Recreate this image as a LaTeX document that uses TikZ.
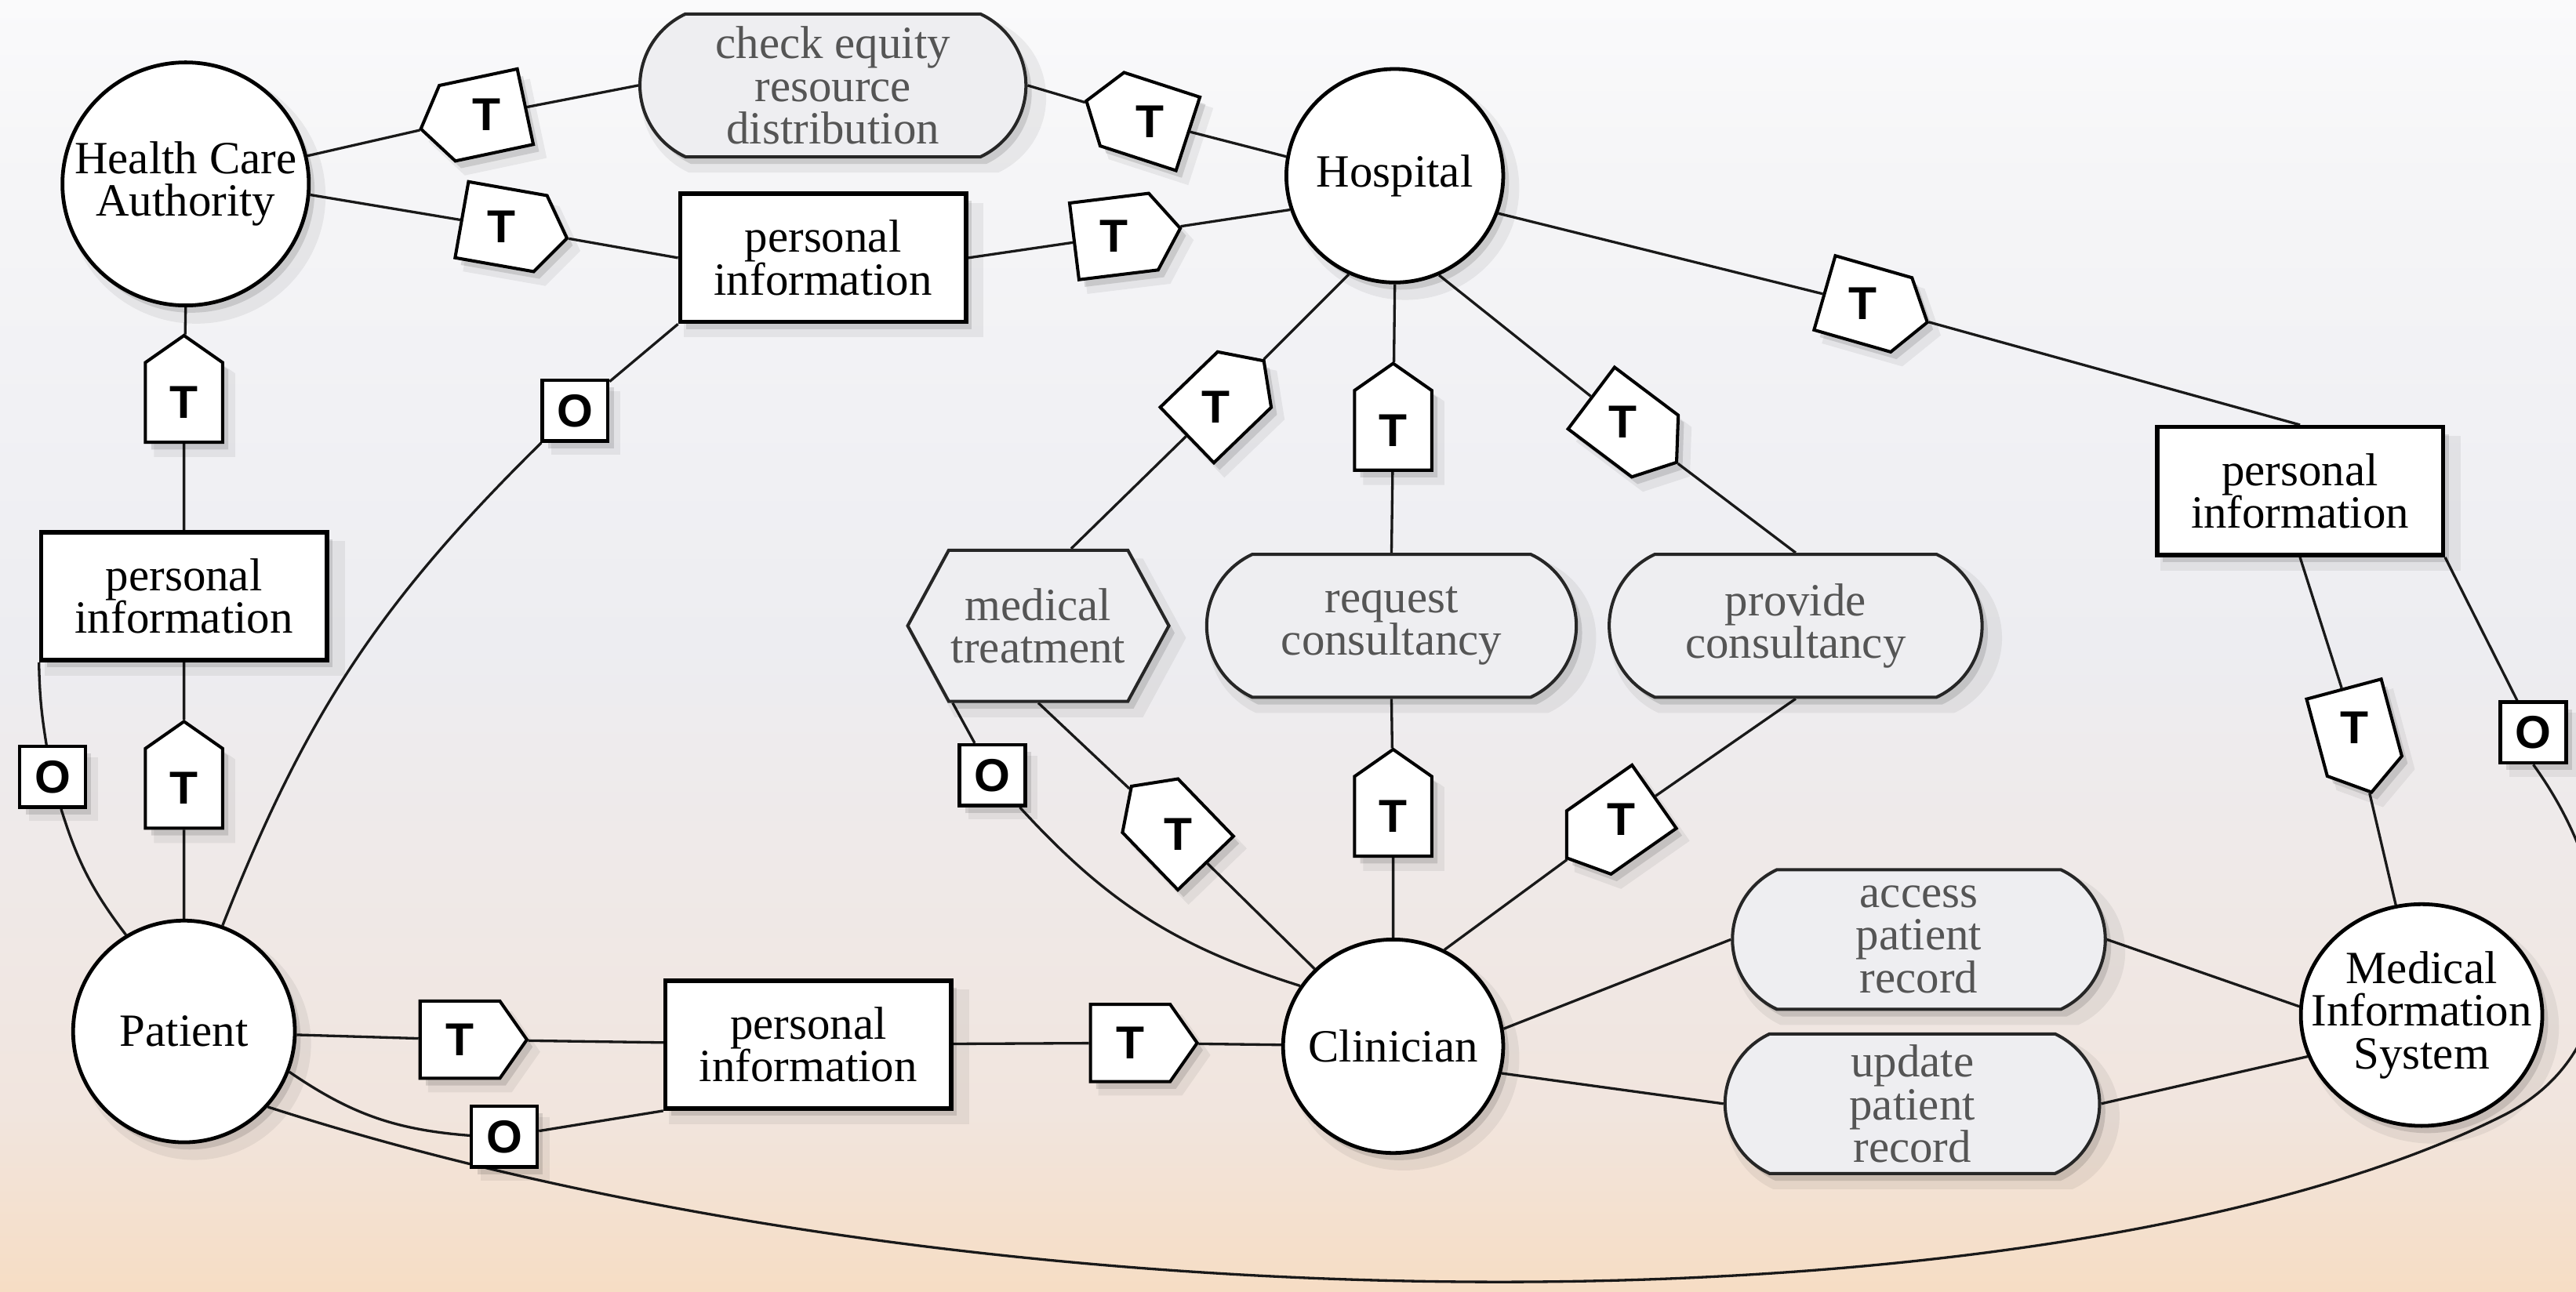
\documentclass[tikz,border=0pt]{standalone}
\usepackage{fontspec}
\setmainfont{Liberation Serif}
\newfontfamily\markfont{Liberation Sans}
\usetikzlibrary{shapes.geometric,shapes.misc,shapes.symbols,shadows}
\definecolor{bgbot}{RGB}{246,221,196}
\definecolor{bgpeach}{RGB}{241,229,222}
\definecolor{bgmid}{RGB}{237,237,241}
\definecolor{bgtoptwo}{RGB}{245,245,247}
\definecolor{bgtop}{RGB}{250,250,251}
\definecolor{goaltext}{RGB}{85,85,85}
\definecolor{goalfill}{RGB}{238,238,241}
\pgfdeclareverticalshading{bgsh}{100bp}{color(0bp)=(bgbot); color(25bp)=(bgbot); color(32bp)=(bgpeach); color(50bp)=(bgmid); color(68bp)=(bgtoptwo); color(75bp)=(bgtop); color(100bp)=(bgtop)}
\pgfdeclarelayer{bglayer}
\pgfdeclarelayer{edgelayer}
\pgfsetlayers{bglayer,edgelayer,main}
\tikzset{
  txt/.style={font=\fontsize{16}{14.8}\selectfont, align=center},
  soft/.style={general shadow={fill=black,opacity=0.06,shadow scale=1.05,shadow xshift=3.5pt,shadow yshift=-4pt},
               general shadow={fill=black,opacity=0.12,shadow xshift=2pt,shadow yshift=-2.5pt}},
  actor/.style={ellipse, draw, line width=1.3pt, fill=white, inner sep=0pt, soft},
  actxt/.style={inner sep=0pt, txt},
  res/.style={rectangle, draw, line width=1.5pt, fill=white, minimum width=3.48cm, minimum height=1.56cm, inner sep=0pt, txt, soft},
  goal/.style={rounded rectangle, rounded rectangle arc length=130, draw=black!85, line width=1.1pt, fill=goalfill, minimum height=1.74cm, inner sep=0pt, txt, text=goaltext, soft},
  task/.style={signal, signal to=west and east, signal pointer angle=123, draw=black!85, line width=1.1pt, fill=goalfill, minimum width=3.18cm, minimum height=1.84cm, inner sep=0pt, txt, text=goaltext, soft},
  tmk/.style={signal, signal to=east, signal pointer angle=110, draw, line width=1.1pt, fill=white, minimum width=1.3cm, minimum height=0.94cm, inner sep=0pt, soft},
  tlab/.style={font=\markfont\bfseries\fontsize{16}{16}\selectfont, inner sep=0pt},
  omk/.style={rectangle, draw, line width=1.2pt, fill=white, minimum width=0.8cm, minimum height=0.74cm, inner sep=0pt, font=\markfont\bfseries\fontsize{16}{16}\selectfont, soft},
  con/.style={line width=0.9pt, draw=black!90},
}
\begin{document}
\begin{tikzpicture}[x=0.02cm, y=-0.02cm]
\useasboundingbox (0,0) rectangle (1568,786.6);
\clip (0,0) rectangle (1568,786.6);
\begin{pgfonlayer}{bglayer}
\shade[shading=bgsh] (0,0) rectangle (1568,786.6);
\end{pgfonlayer}

% actors
\node[actor, minimum width=3.0cm, minimum height=2.96cm] (hca) at (113,112) {};
\node[actor, minimum width=2.64cm, minimum height=2.6cm] (hosp) at (849,107) {};
\node[actor, minimum width=2.7cm, minimum height=2.7cm] (pat) at (112,628) {};
\node[actor, minimum width=2.68cm, minimum height=2.6cm] (clin) at (848,637) {};
\node[actor, minimum width=2.94cm, minimum height=2.7cm] (mis) at (1474,618) {};
\node[actxt] (hcat) at (hca) {Health Care\\Authority};
\node[actxt] (hospt) at (hosp) {Hospital};
\node[actxt] (patt) at (pat) {Patient};
\node[actxt] (clint) at (clin) {Clinician};
\node[actxt] (mist) at (mis) {Medical\\Information\\System};

% resources
\node[res] (pi1) at (501,157) {personal\\information};
\node[res] (pi2) at (112,363) {personal\\information};
\node[res] (pi3) at (492,636) {personal\\information};
\node[res] (pi4) at (1400,299) {personal\\information};

% goals and task
\node[goal, minimum width=4.7cm] (ceq) at (507,52) {check equity\\resource\\distribution};
\node[task] (medtr) at (632,381) {medical\\treatment};
\node[goal, minimum width=4.5cm] (reqc) at (847,381) {request\\consultancy};
\node[goal, minimum width=4.54cm] (provc) at (1093,381) {provide\\consultancy};
\node[goal, minimum width=4.54cm, minimum height=1.7cm] (acc) at (1168,572) {access\\patient\\record};
\node[goal, minimum width=4.56cm, minimum height=1.7cm] (upd) at (1164,672) {update\\patient\\record};

% T markers
\node[tmk, rotate=192] (t1) at (296,70) {};
\node[tmk, rotate=-10] (t2) at (305,138) {};
\node[tmk, rotate=7] (t3) at (678,144) {};
\node[tmk, rotate=162] (t4) at (700,74) {};
\node[tmk, rotate=-16] (t5) at (1134,185) {};
\node[tmk, rotate=90] (t6) at (112,245) {};
\node[tmk, rotate=90] (t7) at (112,480) {};
\node[tmk, rotate=0] (t10) at (280,633) {};
\node[tmk, rotate=0] (t12) at (688,635) {};
\node[tmk, rotate=44] (t13) at (740,248) {};
\node[tmk, rotate=90] (t14) at (848,262) {};
\node[tmk, rotate=-37] (t15) at (988,257) {};
\node[tmk, rotate=134] (t17) at (717,508) {};
\node[tmk, rotate=90] (t18) at (848,497) {};
\node[tmk, rotate=215] (t19) at (987,499) {};
\node[tmk, rotate=-75] (t20) at (1433,443) {};
\foreach \n in {t1,t2,t3,t4,t5,t6,t7,t10,t12,t13,t14,t15,t17,t18,t19,t20}
  \node[tlab] (\n l) at (\n.center) {T};

% O markers
\node[omk] (o8) at (350,250) {O};
\node[omk] (o9) at (32,473) {O};
\node[omk] (o11) at (307,692) {O};
\node[omk] (o16) at (604,472) {O};
\node[omk] (o21) at (1542,446) {O};

\begin{pgfonlayer}{edgelayer}
\draw[con] (hca.13) -- (t1) (t1) -- (ceq.west);
\draw[con] (ceq.east) -- (t4) (t4) -- (hosp.170);
\draw[con] (hca.-5) -- (t2) (t2) -- (pi1.west);
\draw[con] (pi1.east) -- (t3) (t3) -- (hosp.198);
\draw[con] (hosp.-20) -- (t5) (t5) -- (pi4.north);
\draw[con] (hosp.-115) -- (t13) (t13) -- ([xshift=0.4cm]medtr.north);
\draw[con] (hosp.south) -- (t14) (t14) -- (reqc.north);
\draw[con] (hosp.-66) -- (t15) (t15) -- (provc.north);
\draw[con] (medtr.south) -- (t17) (t17) -- (clin);
\draw[con] (reqc.south) -- (t18) (t18) -- (clin.north);
\draw[con] (provc.south) -- (t19) (t19) -- (clin.62);
\draw[con] (pat) -- (t10) (t10) -- (pi3) (pi3) -- (t12) (t12) -- (clin);
\draw[con] (hca.south) -- (t6) (t6) -- (pi2.north) (pi2.south) -- (t7) (t7) -- (pat.north);
\draw[con] (clin.9) -- (acc.west) (clin.-14) -- (upd.west);
\draw[con] (acc.east) -- (mis.176) (upd.east) -- (mis.200);
\draw[con] (pi4.south) -- (t20) (t20) -- (mis);
\draw[con] (pi4.south east) -- (o21);
\draw[con] (pi1.south west) -- (o8) (o8) to[bend right=12] (pat.70);
\draw[con] (pi2.south west) to[bend right=4] (o9) (o9) to[bend right=10] (pat.121);
\draw[con] (pat.-21) to[bend right=15] (o11) (o11) -- (pi3.south west);
\draw[con] (medtr.-138) -- (o16) (o16) to[bend right=15] (clin.147);
\coordinate (bc1) at (1522,680);
\draw[con] (pat.-42) .. controls (600,815) and (1250,815) .. (bc1)
  .. controls (1604,640) and (1596,540) .. (o21.south);
\end{pgfonlayer}
\end{tikzpicture}
\end{document}
